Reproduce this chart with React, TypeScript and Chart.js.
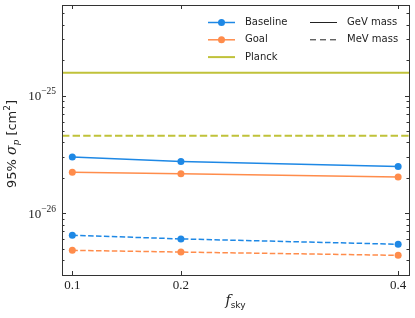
import React, { useEffect, useRef } from 'react';
import { Chart, registerables } from 'chart.js';

Chart.register(...registerables);

// ---- data ----
const fsky = [0.1, 0.2, 0.4];
const baselineGeV = [3.0e-26, 2.75e-26, 2.49e-26];
const goalGeV = [2.23e-26, 2.16e-26, 2.03e-26];
const baselineMeV = [6.49e-27, 6.04e-27, 5.44e-27];
const goalMeV = [4.83e-27, 4.67e-27, 4.38e-27];
const planckGeV = 1.56e-25;
const planckMeV = 4.56e-26;
const xTicks = [0.1, 0.2, 0.4];
const yMajorExps = [-26, -25];
const xRange = [0.0905, 0.41];
const yRange = [2.98e-27, 5.89e-25];

const BLUE = '#1E88E5';
const ORANGE = '#FF8C4B';
const OLIVE = '#C0C23A';
const AXIS = '#333333';

type Part = { text: string; font: string; dy?: number };

function drawRich(ctx: CanvasRenderingContext2D, parts: Part[], cx: number, cy: number, rotate: boolean, align: 'center' | 'right' = 'center') {
  ctx.save();
  ctx.translate(cx, cy);
  if (rotate) ctx.rotate(-Math.PI / 2);
  let total = 0;
  const widths = parts.map((p) => {
    ctx.font = p.font;
    const w = ctx.measureText(p.text).width;
    total += w;
    return w;
  });
  let x = align === 'center' ? -total / 2 : -total;
  ctx.fillStyle = '#222';
  ctx.textBaseline = 'alphabetic';
  ctx.textAlign = 'left';
  parts.forEach((p, i) => {
    ctx.font = p.font;
    ctx.fillText(p.text, x, p.dy ?? 0);
    x += widths[i];
  });
  ctx.restore();
}

const decorPlugin = {
  id: 'decor',
  afterDraw(chart: any) {
    const ctx: CanvasRenderingContext2D = chart.ctx;
    const { left, right, top, bottom } = chart.chartArea;
    const xs = chart.scales.x;
    const ys = chart.scales.y;

    ctx.save();
    // frame
    ctx.strokeStyle = AXIS;
    ctx.lineWidth = 1;
    ctx.strokeRect(Math.round(left) + 0.5, Math.round(top) + 0.5, Math.round(right - left), Math.round(bottom - top));

    // x ticks (inward, top & bottom)
    ctx.beginPath();
    xTicks.forEach((v) => {
      const px = Math.round(xs.getPixelForValue(v)) + 0.5;
      ctx.moveTo(px, bottom);
      ctx.lineTo(px, bottom - 4);
      ctx.moveTo(px, top);
      ctx.lineTo(px, top + 4);
    });
    // y ticks (log, major+minor, inward, left & right)
    for (let e = -28; e <= -24; e++) {
      for (let m = 1; m <= 9; m++) {
        const v = m * Math.pow(10, e);
        if (v < yRange[0] || v > yRange[1]) continue;
        const py = Math.round(ys.getPixelForValue(v)) + 0.5;
        const len = m === 1 ? 4 : 2.5;
        ctx.moveTo(left, py);
        ctx.lineTo(left + len, py);
        ctx.moveTo(right, py);
        ctx.lineTo(right - len, py);
      }
    }
    ctx.stroke();

    // y tick labels (10^n)
    yMajorExps.forEach((e) => {
      const py = ys.getPixelForValue(Math.pow(10, e));
      drawRich(
        ctx,
        [
          { text: '10', font: '13px "Liberation Serif"' },
          { text: '−' + String(-e), font: '9.5px "Liberation Serif"', dy: -6 },
        ],
        left - 6,
        py + 4.5,
        false,
        'right'
      );
    });

    // legend
    const lf = '10px "DejaVu Sans"';
    const col1 = right - 201;
    const col2 = right - 99;
    const row = (i: number) => top + 17.5 + i * 17.3;
    const entry = (x: number, y: number, color: string, dash: number[], marker: boolean, label: string, lw: number) => {
      ctx.save();
      ctx.strokeStyle = color;
      ctx.lineWidth = lw;
      ctx.setLineDash(dash);
      ctx.beginPath();
      ctx.moveTo(x, y);
      ctx.lineTo(x + 27, y);
      ctx.stroke();
      ctx.setLineDash([]);
      if (marker) {
        ctx.fillStyle = color;
        ctx.beginPath();
        ctx.arc(x + 13.5, y, 3.5, 0, Math.PI * 2);
        ctx.fill();
      }
      ctx.fillStyle = '#222';
      ctx.font = lf;
      ctx.textBaseline = 'middle';
      ctx.textAlign = 'left';
      ctx.fillText(label, x + 37, y);
      ctx.restore();
    };
    entry(col1, row(0), BLUE, [], true, 'Baseline', 1.5);
    entry(col1, row(1), ORANGE, [], true, 'Goal', 1.5);
    entry(col1, row(2), OLIVE, [], false, 'Planck', 2);
    entry(col2, row(0), '#222', [], false, 'GeV mass', 1);
    entry(col2, row(1), '#222', [6, 4], false, 'MeV mass', 1);

    // axis titles
    const cy = (top + bottom) / 2 + 4;
    drawRich(
      ctx,
      [
        { text: '95% ', font: '13px "DejaVu Sans"' },
        { text: 'σ', font: 'italic 14px "DejaVu Serif"' },
        { text: 'p', font: 'italic 9px "DejaVu Serif"', dy: 3 },
        { text: ' [cm', font: '13px "DejaVu Sans"' },
        { text: '2', font: '9px "DejaVu Sans"', dy: -6 },
        { text: ']', font: '13px "DejaVu Sans"' },
      ],
      16,
      cy,
      true
    );
    drawRich(
      ctx,
      [
        { text: 'f', font: 'italic 14px "DejaVu Serif"' },
        { text: 'sky', font: '9px "DejaVu Sans"', dy: 3 },
      ],
      (left + right) / 2,
      305,
      false
    );
    ctx.restore();
  },
};

export default function App() {
  const ref = useRef<HTMLCanvasElement | null>(null);
  useEffect(() => {
    if (!ref.current) return;
    const pts = (ys: number[]) => fsky.map((x, i) => ({ x, y: ys[i] }));
    const flat = (y: number) => xRange.map((x) => ({ x, y }));
    const chart = new Chart(ref.current, {
      type: 'line',
      data: {
        datasets: [
          { label: 'Baseline', data: pts(baselineGeV), borderColor: BLUE, backgroundColor: BLUE, borderWidth: 1.5, pointRadius: 3.5, pointBorderWidth: 0 },
          { label: 'Goal', data: pts(goalGeV), borderColor: ORANGE, backgroundColor: ORANGE, borderWidth: 1.5, pointRadius: 3.5, pointBorderWidth: 0 },
          { label: 'Baseline MeV', data: pts(baselineMeV), borderColor: BLUE, backgroundColor: BLUE, borderWidth: 1.5, pointRadius: 3.5, pointBorderWidth: 0, borderDash: [5.5, 2.4] },
          { label: 'Goal MeV', data: pts(goalMeV), borderColor: ORANGE, backgroundColor: ORANGE, borderWidth: 1.5, pointRadius: 3.5, pointBorderWidth: 0, borderDash: [5.5, 2.4] },
          { label: 'Planck', data: flat(planckGeV), borderColor: OLIVE, borderWidth: 2, pointRadius: 0 },
          { label: 'Planck MeV', data: flat(planckMeV), borderColor: OLIVE, borderWidth: 2, pointRadius: 0, borderDash: [7.4, 3.2] },
        ],
      },
      options: {
        animation: false,
        responsive: false,
        devicePixelRatio: 1,
        layout: { padding: { top: 5, right: 6, left: 0, bottom: 0 } },
        plugins: { legend: { display: false }, tooltip: { enabled: false } },
        scales: {
          x: {
            type: 'linear',
            min: xRange[0],
            max: xRange[1],
            afterBuildTicks: (s: any) => {
              s.ticks = xTicks.map((v) => ({ value: v }));
            },
            afterFit: (s: any) => {
              s.height = 43;
              s.paddingLeft = 0;
              s.paddingRight = 0;
            },
            grid: { display: false, drawTicks: false },
            border: { display: false },
            ticks: {
              autoSkip: false,
              maxRotation: 0,
              padding: 3,
              color: '#222',
              font: { family: '"Liberation Serif"', size: 13 },
              callback: (v: any) => String(v),
            },
          },
          y: {
            type: 'logarithmic',
            min: yRange[0],
            max: yRange[1],
            afterFit: (s: any) => {
              s.width = 62;
              s.paddingTop = 0;
              s.paddingBottom = 0;
            },
            grid: { display: false, drawTicks: false },
            border: { display: false },
            ticks: { display: false },
          },
        },
      },
      plugins: [decorPlugin],
    } as any);
    return () => chart.destroy();
  }, []);
  return (
    <div style={{ position: 'fixed', left: 0, top: 0, width: 415, height: 318, background: '#fff' }}>
      <canvas ref={ref} width={415} height={318} />
    </div>
  );
}
